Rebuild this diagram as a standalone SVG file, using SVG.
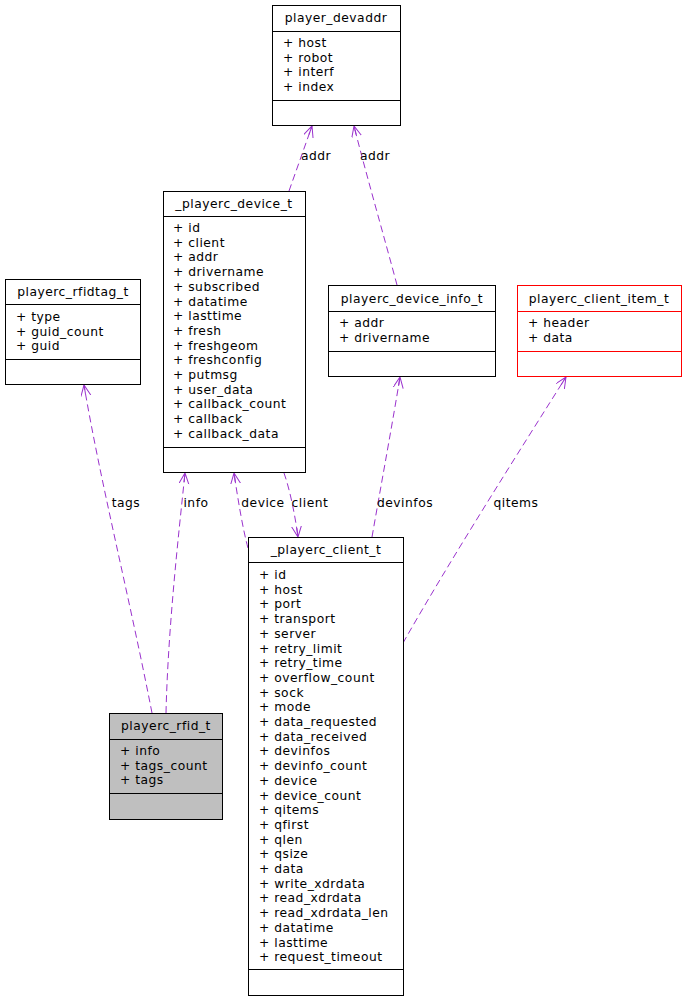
<svg xmlns="http://www.w3.org/2000/svg" width="685" height="1000" viewBox="0 0 685 1000">
<style>
text{font-family:"DejaVu Sans",sans-serif;font-size:12.3px;letter-spacing:0.5px;fill:#000}
.t{text-anchor:middle}
.box{fill:#fff;stroke:#000;stroke-width:1}
.red{stroke:#ff0000}
.gray{fill:#bfbfbf}
.sep{stroke:#000;stroke-width:1}
.sepr{stroke:#ff0000;stroke-width:1}
.e{fill:none;stroke:#9a32cd;stroke-width:1;stroke-dasharray:7,4}
.lbl{text-anchor:middle}
</style>
<defs>
<marker id="a" markerUnits="userSpaceOnUse" markerWidth="14" markerHeight="12" refX="11" refY="5" orient="auto">
<path d="M0,0 L11,5 L0,10 M2,5 L11,5" fill="none" stroke="#9a32cd" stroke-width="1"/>
</marker>
</defs>
<g id="connectors">
<path class="e" d="M289,191 L312,126" marker-end="url(#a)"/>
<text class="lbl" x="316" y="160">addr</text>
<path class="e" d="M397,285 C385,240 365,170 354,126" marker-end="url(#a)"/>
<text class="lbl" x="375" y="160">addr</text>
<path class="e" d="M152,713 C130,600 100,480 84,385" marker-end="url(#a)"/>
<text class="lbl" x="126" y="507">tags</text>
<path class="e" d="M166,713 C168,630 178,540 185,473" marker-end="url(#a)"/>
<text class="lbl" x="196" y="507">info</text>
<path class="e" d="M248,548 C243,530 238,500 234,473" marker-end="url(#a)"/>
<text class="lbl" x="263" y="507">device</text>
<path class="e" d="M284,473 C290,490 295,515 298,537" marker-end="url(#a)"/>
<text class="lbl" x="310" y="507">client</text>
<path class="e" d="M372,537 C382,480 393,420 400,377" marker-end="url(#a)"/>
<text class="lbl" x="405" y="507">devinfos</text>
<path class="e" d="M403,643 C450,560 520,450 566,377" marker-end="url(#a)"/>
<text class="lbl" x="516" y="507">qitems</text>
</g>
<g id="player_devaddr">
<rect class="box" x="272.5" y="5.5" width="128" height="120"/>
<line class="sep" x1="272.5" y1="31.5" x2="400.5" y2="31.5"/>
<line class="sep" x1="272.5" y1="100.5" x2="400.5" y2="100.5"/>
<text class="t" x="336" y="22">player_devaddr</text>
<text x="283" y="47">+ host</text>
<text x="283" y="61.7">+ robot</text>
<text x="283" y="76.4">+ interf</text>
<text x="283" y="91.1">+ index</text>
</g>
<g id="playerc_device_t">
<rect class="box" x="163.5" y="191.5" width="142" height="281"/>
<line class="sep" x1="163.5" y1="216.5" x2="305.5" y2="216.5"/>
<line class="sep" x1="163.5" y1="447.5" x2="305.5" y2="447.5"/>
<text class="t" x="234" y="208">_playerc_device_t</text>
<text x="173" y="232">+ id</text>
<text x="173" y="246.7">+ client</text>
<text x="173" y="261.4">+ addr</text>
<text x="173" y="276.1">+ drivername</text>
<text x="173" y="290.8">+ subscribed</text>
<text x="173" y="305.5">+ datatime</text>
<text x="173" y="320.2">+ lasttime</text>
<text x="173" y="334.9">+ fresh</text>
<text x="173" y="349.6">+ freshgeom</text>
<text x="173" y="364.3">+ freshconfig</text>
<text x="173" y="379">+ putmsg</text>
<text x="173" y="393.7">+ user_data</text>
<text x="173" y="408.4">+ callback_count</text>
<text x="173" y="423.1">+ callback</text>
<text x="173" y="437.8">+ callback_data</text>
</g>
<g id="playerc_rfidtag_t">
<rect class="box" x="5.5" y="279.5" width="135" height="105"/>
<line class="sep" x1="5.5" y1="304.5" x2="140.5" y2="304.5"/>
<line class="sep" x1="5.5" y1="359.5" x2="140.5" y2="359.5"/>
<text class="t" x="73" y="296">playerc_rfidtag_t</text>
<text x="16" y="321">+ type</text>
<text x="16" y="335.7">+ guid_count</text>
<text x="16" y="350.4">+ guid</text>
</g>
<g id="playerc_device_info_t">
<rect class="box" x="328.5" y="285.5" width="167" height="91"/>
<line class="sep" x1="328.5" y1="311.5" x2="495.5" y2="311.5"/>
<line class="sep" x1="328.5" y1="351.5" x2="495.5" y2="351.5"/>
<text class="t" x="412" y="303">playerc_device_info_t</text>
<text x="339" y="327">+ addr</text>
<text x="339" y="341.7">+ drivername</text>
</g>
<g id="playerc_client_item_t">
<rect class="box red" x="517.5" y="285.5" width="164" height="91"/>
<line class="sepr" x1="517.5" y1="311.5" x2="681.5" y2="311.5"/>
<line class="sepr" x1="517.5" y1="351.5" x2="681.5" y2="351.5"/>
<text class="t" x="599" y="303">playerc_client_item_t</text>
<text x="528" y="327">+ header</text>
<text x="528" y="341.7">+ data</text>
</g>
<g id="playerc_rfid_t">
<rect class="box gray" x="109.5" y="713.5" width="113" height="106"/>
<line class="sep" x1="109.5" y1="739.5" x2="222.5" y2="739.5"/>
<line class="sep" x1="109.5" y1="793.5" x2="222.5" y2="793.5"/>
<text class="t" x="166" y="730">playerc_rfid_t</text>
<text x="120" y="755">+ info</text>
<text x="120" y="769.7">+ tags_count</text>
<text x="120" y="784.4">+ tags</text>
</g>
<g id="playerc_client_t">
<rect class="box" x="248.5" y="537.5" width="155" height="458"/>
<line class="sep" x1="248.5" y1="562.5" x2="403.5" y2="562.5"/>
<line class="sep" x1="248.5" y1="969.5" x2="403.5" y2="969.5"/>
<text class="t" x="326" y="554">_playerc_client_t</text>
<text x="259" y="579">+ id</text>
<text x="259" y="593.7">+ host</text>
<text x="259" y="608.4">+ port</text>
<text x="259" y="623.1">+ transport</text>
<text x="259" y="637.8">+ server</text>
<text x="259" y="652.5">+ retry_limit</text>
<text x="259" y="667.2">+ retry_time</text>
<text x="259" y="681.9">+ overflow_count</text>
<text x="259" y="696.6">+ sock</text>
<text x="259" y="711.3">+ mode</text>
<text x="259" y="726">+ data_requested</text>
<text x="259" y="740.7">+ data_received</text>
<text x="259" y="755.4">+ devinfos</text>
<text x="259" y="770.1">+ devinfo_count</text>
<text x="259" y="784.8">+ device</text>
<text x="259" y="799.5">+ device_count</text>
<text x="259" y="814.2">+ qitems</text>
<text x="259" y="828.9">+ qfirst</text>
<text x="259" y="843.6">+ qlen</text>
<text x="259" y="858.3">+ qsize</text>
<text x="259" y="873">+ data</text>
<text x="259" y="887.7">+ write_xdrdata</text>
<text x="259" y="902.4">+ read_xdrdata</text>
<text x="259" y="917.1">+ read_xdrdata_len</text>
<text x="259" y="931.8">+ datatime</text>
<text x="259" y="946.5">+ lasttime</text>
<text x="259" y="961.2">+ request_timeout</text>
</g>
</svg>
